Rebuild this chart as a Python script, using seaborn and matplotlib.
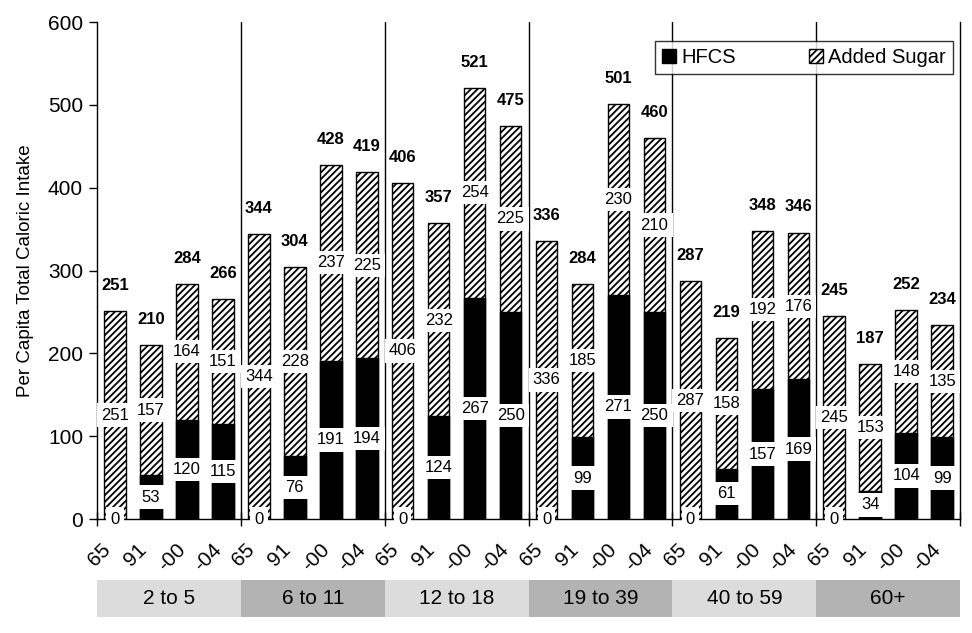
import pandas as pd
import matplotlib
matplotlib.use("Agg")
import matplotlib.pyplot as plt
import matplotlib.transforms as mtransforms
from matplotlib.patches import Patch, Rectangle
import seaborn as sns

# age groups and survey years
groups = ["2 to 5", "6 to 11", "12 to 18", "19 to 39", "40 to 59", "60+"]
years = ["65", "91", "-00", "-04"]

# values per bar (group by group, 4 years each)
hfcs = [0, 53, 120, 115,
        0, 76, 191, 194,
        0, 124, 267, 250,
        0, 99, 271, 250,
        0, 61, 157, 169,
        0, 34, 104, 99]
added = [251, 157, 164, 151,
         344, 228, 237, 225,
         406, 232, 254, 225,
         336, 185, 230, 210,
         287, 158, 192, 176,
         245, 153, 148, 135]
totals = [251, 210, 284, 266,
          344, 304, 428, 419,
          406, 357, 521, 475,
          336, 284, 501, 460,
          287, 219, 348, 346,
          245, 187, 252, 234]

df = pd.DataFrame({
    "slot": list(range(len(totals))),
    "year": years * len(groups),
    "hfcs": hfcs,
    "added": added,
    "total": totals,
})

sns.set_style("white")
plt.rcParams["font.family"] = ["Liberation Sans", "DejaVu Sans"]
plt.rcParams["hatch.color"] = "black"
plt.rcParams["hatch.linewidth"] = 1.3
for k in ["text.color", "axes.labelcolor", "xtick.color", "ytick.color"]:
    plt.rcParams[k] = "black"

fig = plt.figure(figsize=(9.72, 6.33), dpi=100)
ax = fig.add_axes([0.0998, 0.18, 0.888, 0.785])

# full bars (hatched = added sugar part), then HFCS on top of them
sns.barplot(data=df, x="slot", y="total", color="white", width=0.6,
            edgecolor="black", linewidth=1.0, saturation=1, ax=ax)
for p in ax.patches:
    p.set_hatch("/////")
    p.set_facecolor("white")
    p.set_edgecolor("black")
sns.barplot(data=df, x="slot", y="hfcs", color="black", width=0.6,
            edgecolor="black", linewidth=1.0, saturation=1, ax=ax)

box = dict(boxstyle="square,pad=0.25", fc="white", ec="none")
for i, row in df.iterrows():
    ax.text(i, row["hfcs"] / 2, str(row["hfcs"]), ha="center", va="center",
            fontsize=12, bbox=box, zorder=5)
    ax.text(i, row["hfcs"] + row["added"] / 2, str(row["added"]), ha="center",
            va="center", fontsize=12, bbox=box, zorder=5)
    ax.annotate(str(row["total"]), (i, row["total"]), xytext=(0, 13),
                textcoords="offset points", ha="center", va="bottom",
                fontsize=12, fontweight="bold")

ax.set_xlim(-0.5, len(totals) - 0.5)
ax.set_ylim(0, 600)
ax.set_yticks(range(0, 601, 100))
ax.tick_params(axis="y", labelsize=15, length=6, width=1, direction="out", left=True, pad=4)
ax.set_ylabel("Per Capita Total Caloric Intake", fontsize=13.5, labelpad=10)
ax.set_xlabel("")

ax.set_xticks(range(len(totals)))
ax.set_xticklabels(df["year"], rotation=45, ha="center", fontsize=15)
ax.tick_params(axis="x", length=0, pad=15)
shift = mtransforms.ScaledTranslation(-11 / 72, 0, fig.dpi_scale_trans)
for lab in ax.get_xticklabels():
    lab.set_transform(lab.get_transform() + shift)
bounds = [4 * g - 0.5 for g in range(len(groups) + 1)]
ax.set_xticks(bounds, minor=True)
ax.tick_params(axis="x", which="minor", length=10, width=1, direction="inout", bottom=True)

for b in bounds[1:-1]:
    ax.axvline(b, color="black", lw=1)

for s in ["left", "bottom", "right"]:
    ax.spines[s].set_color("black")
    ax.spines[s].set_linewidth(1)
ax.spines["top"].set_visible(False)

# group label strip under the axis
shades = ["#dcdcdc", "#b3b3b3"]
for g, name in enumerate(groups):
    ax.add_patch(Rectangle((4 * g - 0.5, -0.197), 4, 0.074, transform=ax.get_xaxis_transform(),
                           facecolor=shades[g % 2], edgecolor="none", clip_on=False))
    ax.text(4 * g + 1.5, -0.16, name, transform=ax.get_xaxis_transform(),
            ha="center", va="center", fontsize=15)

handles = [Patch(facecolor="black", edgecolor="black", label="HFCS"),
           Patch(facecolor="white", edgecolor="black", hatch="/////", label="Added Sugar")]
leg = ax.legend(handles=handles, ncol=2, loc="upper left", mode="expand",
                bbox_to_anchor=(0.6466, 0.892, 0.3453, 0.07),
                fontsize=14.5, frameon=True, fancybox=False, handlelength=0.7,
                handleheight=0.7, handletextpad=0.25, borderpad=0.35, borderaxespad=0)
leg.get_frame().set_edgecolor("black")
leg.get_frame().set_linewidth(1)

fig.savefig("out.png", dpi=100)
